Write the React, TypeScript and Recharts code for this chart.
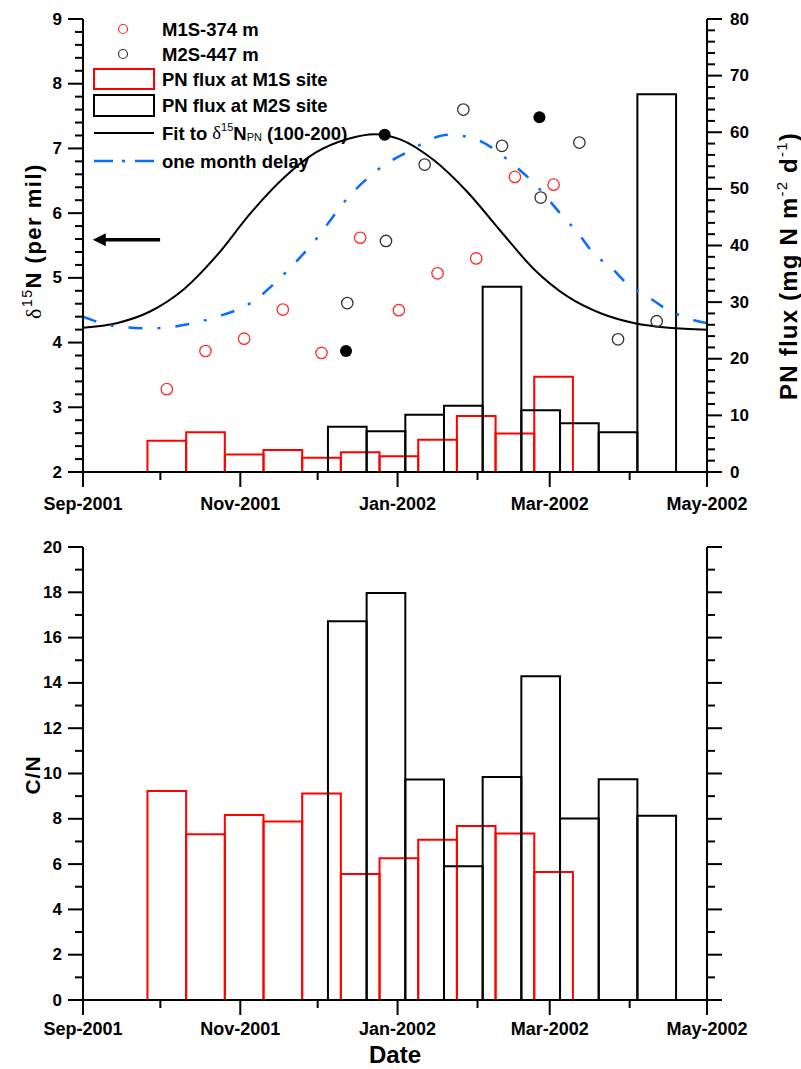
import React from "react";
import {
  ComposedChart,
  XAxis,
  YAxis,
  Line,
  Scatter,
  ReferenceArea,
  ReferenceLine,
  Legend,
} from "recharts";

const FONT = '"Liberation Sans", Arial, sans-serif';
const GREEK = '"Liberation Serif", "DejaVu Serif", serif';

const RED = "#ff0000";
const RED_DOT = "#ff2b2b";
const GREY_DOT = "#333333";
const BLUE = "#0a6cff";

// trap cups: each cup runs from one date to the next one in the list
const M1S_CUPS = [
  "2001-09-26", "2001-10-11", "2001-10-26", "2001-11-10", "2001-11-25", "2001-12-10",
  "2001-12-25", "2002-01-09", "2002-01-24", "2002-02-08", "2002-02-23", "2002-03-10",
];
const M2S_CUPS = [
  "2001-12-05", "2001-12-20", "2002-01-04", "2002-01-19", "2002-02-03",
  "2002-02-18", "2002-03-05", "2002-03-20", "2002-04-04", "2002-04-19",
];

// d15N of sinking PN (per mil), one value per cup
const M1S_D15N = [3.28, 3.87, 4.06, 4.51, 3.84, 5.62, 4.5, 5.07, 5.3, 6.56, 6.44];
const M2S_D15N = [4.61, 5.57, 6.75, 7.6, 7.04, 6.24, 7.09, 4.05, 4.33];

// 100-200 m PN samples
const PN_UPPER_DATES = ["2001-12-12", "2001-12-27", "2002-02-25"];
const PN_UPPER_D15N = [3.87, 7.21, 7.48];

// PN flux (mg N m-2 d-1)
const M1S_FLUX = [5.5, 7.0, 3.1, 3.9, 2.5, 3.5, 2.8, 5.7, 9.9, 6.8, 16.8];
const M2S_FLUX = [8.0, 7.2, 10.1, 11.7, 32.7, 10.9, 8.6, 7.0, 66.7];

// C/N ratio
const M1S_CN = [9.23, 7.32, 8.17, 7.88, 9.12, 5.56, 6.26, 7.08, 7.68, 7.35, 5.65];
const M2S_CN = [16.72, 17.97, 9.73, 5.9, 9.85, 14.29, 8.01, 9.75, 8.13];

// fitted seasonal curve, days after 1 Sep 2001
const FIT_DAYS = [0, 13, 26, 39, 52, 65, 78, 90, 103, 113, 123, 136, 149, 162, 175, 188, 201, 214, 227, 242];
const FIT_D15N = [4.23, 4.3, 4.48, 4.82, 5.35, 6.0, 6.55, 6.93, 7.15, 7.22, 7.14, 6.82, 6.33, 5.72, 5.13, 4.71, 4.45, 4.3, 4.23, 4.2];

const DELAY_DAYS = [0, 13, 26, 39, 52, 65, 77, 90, 103, 116, 127, 136, 142, 151, 159, 166, 175, 185, 192, 198, 205, 211, 219, 227, 235, 242];
const DELAY_D15N = [4.4, 4.25, 4.22, 4.27, 4.4, 4.61, 5.02, 5.58, 6.25, 6.72, 6.97, 7.16, 7.21, 7.16, 7.0, 6.78, 6.46, 6.0, 5.69, 5.38, 5.15, 4.91, 4.71, 4.5, 4.37, 4.3];

const MONTHS = [
  "2001-09-01", "2001-10-01", "2001-11-01", "2001-12-01", "2002-01-01",
  "2002-02-01", "2002-03-01", "2002-04-01", "2002-05-01",
];
const MONTH_LABELS = ["Sep-2001", "", "Nov-2001", "", "Jan-2002", "", "Mar-2002", "", "May-2002"];

const D15N_TICKS = [2, 3, 4, 5, 6, 7, 8, 9];
const FLUX_TICKS = [0, 10, 20, 30, 40, 50, 60, 70, 80];
const CN_TICKS = [0, 2, 4, 6, 8, 10, 12, 14, 16, 18, 20];

// arrow pointing at the left axis (day, per mil)
const ARROW = [{ x: 29.9, y: 5.59 }, { x: 3.8, y: 5.59 }];

const T0 = Date.UTC(2001, 8, 1);
const toDay = (s: string) => (Date.parse(s) - T0) / 86400000;
const monthDays = MONTHS.map(toDay);
const END_DAY = monthDays[monthDays.length - 1];

const cupSpans = (dates: string[]) =>
  dates.slice(0, -1).map((d, i) => ({ start: toDay(d), end: toDay(dates[i + 1]) }));

const m1sSpans = cupSpans(M1S_CUPS);
const m2sSpans = cupSpans(M2S_CUPS);

const m1sPoints = m1sSpans.map((c, i) => ({ day: (c.start + c.end) / 2, d15n: M1S_D15N[i] }));
const m2sPoints = m2sSpans.map((c, i) => ({ day: (c.start + c.end) / 2, d15n: M2S_D15N[i] }));
const upperPoints = PN_UPPER_DATES.map((d, i) => ({ day: toDay(d), d15n: PN_UPPER_D15N[i] }));
const fitLine = FIT_DAYS.map((d, i) => ({ day: d, d15n: FIT_D15N[i] }));
const delayLine = DELAY_DAYS.map((d, i) => ({ day: d, d15n: DELAY_D15N[i] }));

// major ticks plus the unlabelled minor ones in between
const withMinors = (majors: number[], step: number) => {
  const out: number[] = [];
  const n = Math.round((majors[majors.length - 1] - majors[0]) / step);
  for (let i = 0; i <= n; i++) out.push(Math.round((majors[0] + i * step) * 1000) / 1000);
  return out;
};

const AXIS_LINE = { stroke: "#000", strokeWidth: 2 };
const isMajor = (majors: number[], v: number) => majors.some((m) => Math.abs(m - v) < 1e-6);

const sideTick = (side: "left" | "right", majors: number[], labels: boolean) => (p: any) => {
  const v = p.payload.value;
  const major = isMajor(majors, v);
  const dir = side === "left" ? -1 : 1;
  return (
    <g>
      <line x1={p.x} y1={p.y} x2={p.x + dir * (major ? 15 : 8)} y2={p.y} stroke="#000" strokeWidth={2} />
      {major && labels && (
        <text
          x={p.x + dir * (side === "left" ? 21 : 23)}
          y={p.y}
          textAnchor={side === "left" ? "end" : "start"}
          dominantBaseline="central"
          fontFamily={FONT}
          fontSize={17}
          fontWeight="bold"
          fill="#000"
        >
          {v}
        </text>
      )}
    </g>
  );
};

const dateTick = (labelDy: number) => (p: any) => {
  const i = monthDays.findIndex((d) => Math.abs(d - p.payload.value) < 0.01);
  const label = MONTH_LABELS[i];
  return (
    <g>
      <line x1={p.x} y1={p.y} x2={p.x} y2={p.y + (label ? 15 : 8)} stroke="#000" strokeWidth={2} />
      {label && (
        <text x={p.x} y={p.y + labelDy} textAnchor="middle" fontFamily={FONT} fontSize={18} fontWeight="bold" fill="#000">
          {label}
        </text>
      )}
    </g>
  );
};

const openCircle = (color: string) => (p: any) => (
  <circle cx={p.cx} cy={p.cy} r={5.7} fill="none" stroke={color} strokeWidth={1.3} />
);
const filledCircle = (p: any) => <circle cx={p.cx} cy={p.cy} r={6} fill="#000" />;

const arrowShape = (p: any) => {
  const { x1, y1, x2, y2 } = p;
  return (
    <g>
      <line x1={x1} y1={y1} x2={x2 + 10} y2={y2} stroke="#000" strokeWidth={3.5} />
      <polygon points={`${x2},${y2} ${x2 + 13},${y2 - 6.5} ${x2 + 13},${y2 + 6.5}`} fill="#000" />
    </g>
  );
};

const D15nTitle = () => (
  <text
    transform="translate(33,233) rotate(-90)"
    textAnchor="middle"
    fontFamily={FONT}
    fontSize={22}
    fontWeight="bold"
    letterSpacing={1.5}
    fill="#000"
  >
    <tspan fontFamily={GREEK} fontWeight="normal">δ</tspan>
    <tspan fontSize={14} fontWeight="normal" dy={-9}>15</tspan>
    <tspan dy={9}>N (per mil)</tspan>
  </text>
);

const FluxTitle = () => (
  <text
    transform="translate(789,258) rotate(-90)"
    textAnchor="middle"
    fontFamily={FONT}
    fontSize={24}
    fontWeight="bold"
    letterSpacing={1.2}
    fill="#000"
  >
    <tspan>PN flux (mg N m</tspan>
    <tspan fontSize={15} fontWeight="normal" dy={-10}>-2</tspan>
    <tspan dy={10}> d</tspan>
    <tspan fontSize={15} fontWeight="normal" dy={-10}>-1</tspan>
    <tspan dy={10}>)</tspan>
  </text>
);

const CnTitle = () => (
  <text
    transform="translate(32,247) rotate(-90)"
    textAnchor="middle"
    fontFamily={FONT}
    fontSize={21}
    fontWeight="bold"
    letterSpacing={1}
    fill="#000"
  >
    C/N
  </text>
);

const DateTitle = () => (
  <text x={387} y={535} textAnchor="middle" fontFamily={FONT} fontSize={24} fontWeight="bold" fill="#000">
    Date
  </text>
);

const legendText = { fontFamily: FONT, fontSize: 18.5, fontWeight: "bold" as const, fill: "#000" };

const LegendBox = () => (
  <svg width={340} height={165}>
    <circle cx={35} cy={13} r={4.5} fill="none" stroke={RED_DOT} strokeWidth={1.2} />
    <text x={74} y={13} dominantBaseline="central" {...legendText}>M1S-374 m</text>
    <circle cx={35} cy={38} r={4.5} fill="none" stroke={GREY_DOT} strokeWidth={1.2} />
    <text x={74} y={38} dominantBaseline="central" {...legendText}>M2S-447 m</text>
    <rect x={6} y={53} width={60} height={20} fill="none" stroke={RED} strokeWidth={2} />
    <text x={74} y={63} dominantBaseline="central" {...legendText}>PN flux at M1S site</text>
    <rect x={6} y={79} width={60} height={21} fill="none" stroke="#000" strokeWidth={2} />
    <text x={74} y={89} dominantBaseline="central" {...legendText}>PN flux at M2S site</text>
    <line x1={6} y1={117} x2={66} y2={117} stroke="#000" strokeWidth={2} />
    <text x={74} y={117} dominantBaseline="central" {...legendText}>
      {"Fit to "}
      <tspan fontFamily={GREEK} fontWeight="normal">δ</tspan>
      <tspan fontSize={11} fontWeight="normal" dy={-6}>15</tspan>
      <tspan dy={6}>N</tspan>
      <tspan fontSize={11} fontWeight="normal" dy={4}>PN</tspan>
      <tspan dy={-4}> (100-200)</tspan>
    </text>
    <line x1={6} y1={145} x2={66} y2={145} stroke={BLUE} strokeWidth={2.5} strokeDasharray="19 9 3 10 19" />
    <text x={74} y={145} dominantBaseline="central" {...legendText}>one month delay</text>
  </svg>
);

const App: React.FC = () => {
  return (
    <div style={{ position: "absolute", left: 8, top: 8, width: 793, height: 1061 }}>
      <ComposedChart width={793} height={520} margin={{ top: 11, right: 24, bottom: 16, left: 15 }}>
        <XAxis
          type="number"
          dataKey="day"
          domain={[0, END_DAY]}
          ticks={monthDays}
          interval={0}
          allowDataOverflow
          height={40}
          tickSize={0}
          tickMargin={0}
          tickLine={false}
          axisLine={AXIS_LINE}
          tick={dateTick(38)}
        />
        <YAxis
          yAxisId="d15n"
          dataKey="d15n"
          type="number"
          domain={[2, 9]}
          ticks={withMinors(D15N_TICKS, 0.2)}
          interval={0}
          allowDataOverflow
          width={60}
          tickSize={0}
          tickMargin={0}
          tickLine={false}
          axisLine={AXIS_LINE}
          tick={sideTick("left", D15N_TICKS, true)}
          label={() => <D15nTitle />}
        />
        <YAxis
          yAxisId="flux"
          orientation="right"
          type="number"
          domain={[0, 80]}
          ticks={withMinors(FLUX_TICKS, 2)}
          interval={0}
          allowDataOverflow
          width={70}
          tickSize={0}
          tickMargin={0}
          tickLine={false}
          axisLine={AXIS_LINE}
          tick={sideTick("right", FLUX_TICKS, true)}
          label={() => <FluxTitle />}
        />

        {m1sSpans.map((c, i) => (
          <ReferenceArea
            key={`m1s-flux-${i}`}
            yAxisId="flux"
            x1={c.start}
            x2={c.end}
            y1={0}
            y2={M1S_FLUX[i]}
            fill="none"
            stroke={RED}
            strokeWidth={2}
            ifOverflow="visible"
          />
        ))}
        {m2sSpans.map((c, i) => (
          <ReferenceArea
            key={`m2s-flux-${i}`}
            yAxisId="flux"
            x1={c.start}
            x2={c.end}
            y1={0}
            y2={M2S_FLUX[i]}
            fill="none"
            stroke="#000"
            strokeWidth={2}
            ifOverflow="visible"
          />
        ))}

        <Line
          yAxisId="d15n"
          data={fitLine}
          dataKey="d15n"
          type="monotone"
          stroke="#000"
          strokeWidth={2}
          dot={false}
          activeDot={false}
          isAnimationActive={false}
        />
        <Line
          yAxisId="d15n"
          data={delayLine}
          dataKey="d15n"
          type="monotone"
          stroke={BLUE}
          strokeWidth={2.5}
          strokeDasharray="14 15 3 15"
          dot={false}
          activeDot={false}
          isAnimationActive={false}
        />
        <Scatter yAxisId="d15n" data={m1sPoints} shape={openCircle(RED_DOT)} isAnimationActive={false} />
        <Scatter yAxisId="d15n" data={m2sPoints} shape={openCircle(GREY_DOT)} isAnimationActive={false} />
        <Scatter yAxisId="d15n" data={upperPoints} shape={filledCircle} isAnimationActive={false} />

        <ReferenceLine yAxisId="d15n" segment={ARROW} shape={arrowShape} ifOverflow="visible" />

        <Legend
          layout="vertical"
          align="center"
          verticalAlign="middle"
          wrapperStyle={{ left: 80, top: 8, width: 340, height: 165 }}
          content={() => <LegendBox />}
        />
      </ComposedChart>

      <ComposedChart width={793} height={541} margin={{ top: 19, right: 24, bottom: 11, left: 15 }}>
        <XAxis
          type="number"
          dataKey="day"
          domain={[0, END_DAY]}
          ticks={monthDays}
          interval={0}
          allowDataOverflow
          height={58}
          tickSize={0}
          tickMargin={0}
          tickLine={false}
          axisLine={AXIS_LINE}
          tick={dateTick(35)}
          label={() => <DateTitle />}
        />
        <YAxis
          yAxisId="cn"
          type="number"
          domain={[0, 20]}
          ticks={withMinors(CN_TICKS, 1)}
          interval={0}
          allowDataOverflow
          width={60}
          tickSize={0}
          tickMargin={0}
          tickLine={false}
          axisLine={AXIS_LINE}
          tick={sideTick("left", CN_TICKS, true)}
          label={() => <CnTitle />}
        />
        <YAxis
          yAxisId="cnRight"
          orientation="right"
          type="number"
          domain={[0, 20]}
          ticks={withMinors(CN_TICKS, 1)}
          interval={0}
          allowDataOverflow
          width={70}
          tickSize={0}
          tickMargin={0}
          tickLine={false}
          axisLine={AXIS_LINE}
          tick={sideTick("right", CN_TICKS, false)}
        />

        {m1sSpans.map((c, i) => (
          <ReferenceArea
            key={`m1s-cn-${i}`}
            yAxisId="cn"
            x1={c.start}
            x2={c.end}
            y1={0}
            y2={M1S_CN[i]}
            fill="none"
            stroke={RED}
            strokeWidth={2}
            ifOverflow="visible"
          />
        ))}
        {m2sSpans.map((c, i) => (
          <ReferenceArea
            key={`m2s-cn-${i}`}
            yAxisId="cn"
            x1={c.start}
            x2={c.end}
            y1={0}
            y2={M2S_CN[i]}
            fill="none"
            stroke="#000"
            strokeWidth={2}
            ifOverflow="visible"
          />
        ))}
      </ComposedChart>
    </div>
  );
};

export default App;
